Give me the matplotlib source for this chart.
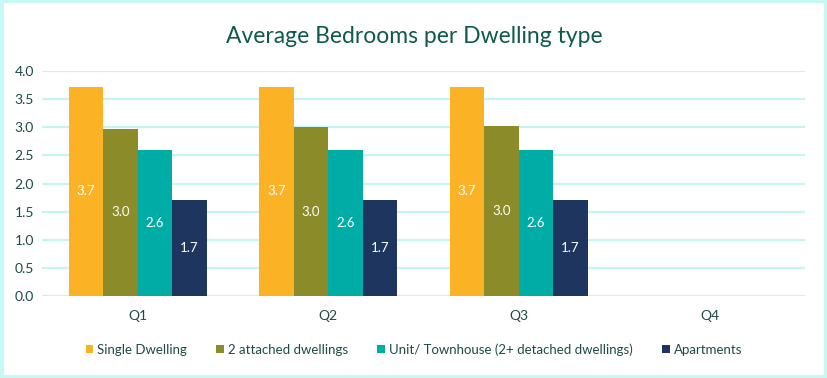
import matplotlib.pyplot as plt
import numpy as np
from matplotlib.patches import Rectangle

quarters = ['Q1', 'Q2', 'Q3', 'Q4']
series_names = ['Single Dwelling', '2 attached dwellings',
                'Unit/ Townhouse (2+ detached dwellings)', 'Apartments']
single = [3.72, 3.72, 3.72, np.nan]
attached = [2.97, 3.00, 3.03, np.nan]
unit = [2.60, 2.60, 2.60, np.nan]
apartments = [1.71, 1.71, 1.71, np.nan]

colors = ['#FBB225', '#8C8B2A', '#00ACA6', '#1E3560']
text_col = '#1C4A45'

plt.rcParams['font.family'] = ['Lato', 'DejaVu Sans']

fig = plt.figure(figsize=(8.28, 3.78), dpi=100)
ax = fig.add_axes([0.051, 0.217, 0.921, 0.595])

x = np.arange(len(quarters))
barWidth = 0.181
all_series = [single, attached, unit, apartments]
for i, vals in enumerate(all_series):
    pos = x + (i - 1.5) * barWidth
    ax.bar(pos, vals, width=barWidth, color=colors[i], label=series_names[i], zorder=3)
    for xp, v in zip(pos, vals):
        if not np.isnan(v):
            ax.text(xp, v / 2, f'{v:.1f}', ha='center', va='center', color='white',
                    fontsize=9.5, zorder=4)

ax.set_xlim(-0.5, 3.5)
ax.set_ylim(0, 4.0)
ax.set_yticks(np.arange(0, 4.01, 0.5))
ax.set_yticklabels([f'{t:.1f}' for t in np.arange(0, 4.01, 0.5)])
ax.set_xticks(x)
ax.set_xticklabels(quarters)
ax.yaxis.grid(True, color='#C5F5F1', linewidth=1.6, zorder=0)
ax.tick_params(axis='both', length=0, colors=text_col, labelsize=10)
ax.tick_params(axis='x', pad=10)
ax.tick_params(axis='y', pad=6)
for s in ax.spines.values():
    s.set_visible(False)

fig.suptitle('Average Bedrooms per Dwelling type', y=0.93, fontsize=16.5, color='#0F5A4B')

fig.legend(loc='center', bbox_to_anchor=(0.5, 0.075), ncol=4, frameon=False,
           fontsize=9.5, handlelength=0.6, handleheight=0.6, handletextpad=0.3,
           columnspacing=2.2, labelcolor=text_col)

fig.patches.append(Rectangle((0.002, 0.003), 0.996, 0.994, transform=fig.transFigure,
                             fill=False, edgecolor='#C8F8F4', linewidth=3))

fig.savefig('out.png', dpi=100)
